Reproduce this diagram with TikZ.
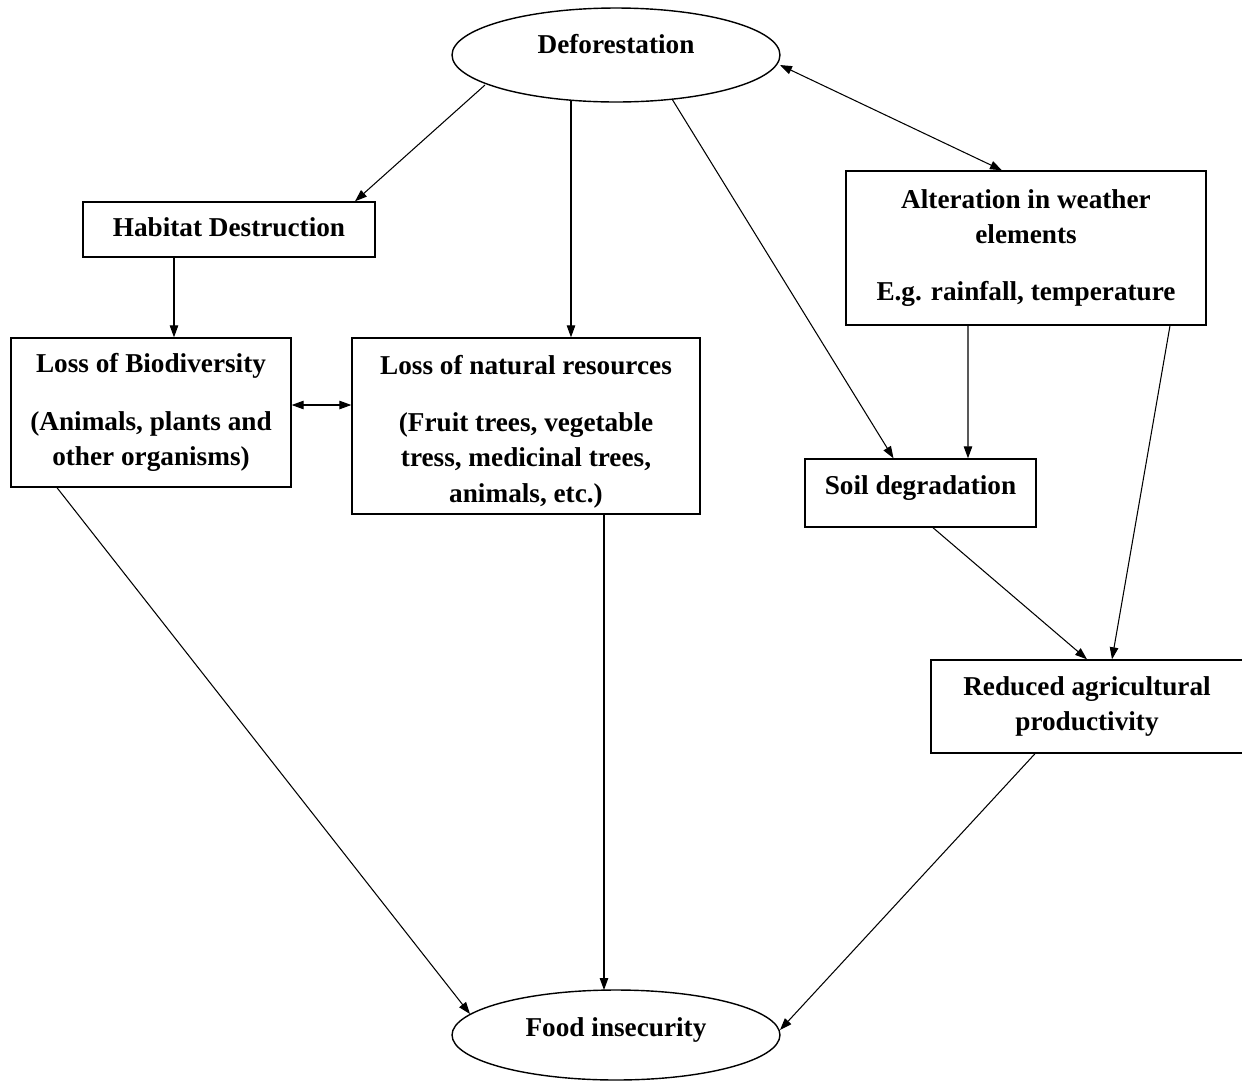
\documentclass[tikz,border=0pt]{standalone}
\usepackage{fontspec}
\setmainfont{Liberation Serif}
\usetikzlibrary{shapes.geometric,arrows.meta,calc}
\begin{document}
\begin{tikzpicture}[x=0.02cm,y=-0.02cm,
  every node/.style={font=\bfseries\fontsize{15.5}{20}\selectfont, align=center, inner sep=0pt},
  boxnode/.style={draw, line width=0.8pt, rectangle},
  ovalnode/.style={draw, line width=0.8pt, ellipse, minimum width=6.56cm},
  conn/.style={line width=0.6pt, -{Triangle[length=2.4mm,width=1.7mm]}},
  bconn/.style={line width=0.6pt, {Triangle[length=2.4mm,width=1.7mm]}-{Triangle[length=2.4mm,width=1.7mm]}}]
\useasboundingbox (0,0) rectangle (1242,1083);
\node[ovalnode, minimum height=1.88cm] (def) at (616,55) {\raisebox{0.46cm}{Deforestation}};
\node[boxnode, minimum width=5.84cm, minimum height=1.1cm] (hab) at (229,229.5) {\raisebox{0.1cm}{Habitat Destruction}};
\node[boxnode, minimum width=5.6cm, minimum height=2.98cm] (bio) at (151,412.5) {Loss of Biodiversity\\[0.45cm](Animals, plants and\\other organisms)};
\node[boxnode, minimum width=6.96cm, minimum height=3.52cm] (nat) at (526,426) {\rule{0pt}{0.6cm}Loss of natural resources\\[0.45cm](Fruit trees, vegetable\\tress, medicinal trees,\\animals, etc.)};
\node[boxnode, minimum width=7.2cm, minimum height=3.08cm] (alt) at (1026,248) {Alteration in weather\\elements\\[0.45cm]E.g. rainfall, temperature};
\node[boxnode, minimum width=4.62cm, minimum height=1.36cm] (soil) at (920.5,493) {\raisebox{0.3cm}{Soil degradation}};
\node[boxnode, minimum width=6.24cm, minimum height=1.86cm] (red) at (1087,706.5) {Reduced agricultural\\productivity};
\node[ovalnode, minimum height=1.8cm] (food) at (616,1035) {\raisebox{0.32cm}{Food insecurity}};

\draw[conn] ($(def.center)+(-131,30)$) -- ($(hab.north)+(126,0)$);
\draw[conn] ($(def.center)+(-45,45)$) -- ($(nat.north)+(45,0)$);
\draw[conn] ($(def.center)+(56,44)$) -- ($(soil.north)+(-27,0)$);
\draw[bconn] ($(def.center)+(164,10)$) -- ($(alt.north)+(-24,0)$);
\draw[conn] ($(hab.south)+(-55,0)$) -- ($(bio.north)+(23,0)$);
\draw[bconn] ($(bio.east)+(0,-7.5)$) -- ($(nat.west)+(0,-21)$);
\draw[conn] ($(alt.south)+(-58,0)$) -- ($(soil.north)+(47.5,0)$);
\draw[conn] ($(alt.south)+(144,0)$) -- ($(red.north)+(25,0)$);
\draw[conn] ($(soil.south)+(12.5,0)$) -- (red.north);
\draw[conn] ($(bio.south)+(-94,0)$) -- ($(food.center)+(-146,-21)$);
\draw[conn] ($(nat.south)+(78,0)$) -- ($(food.center)+(-12,-45)$);
\draw[conn] ($(red.south)+(-52,0)$) -- ($(food.center)+(164,-5)$);
\end{tikzpicture}
\end{document}
